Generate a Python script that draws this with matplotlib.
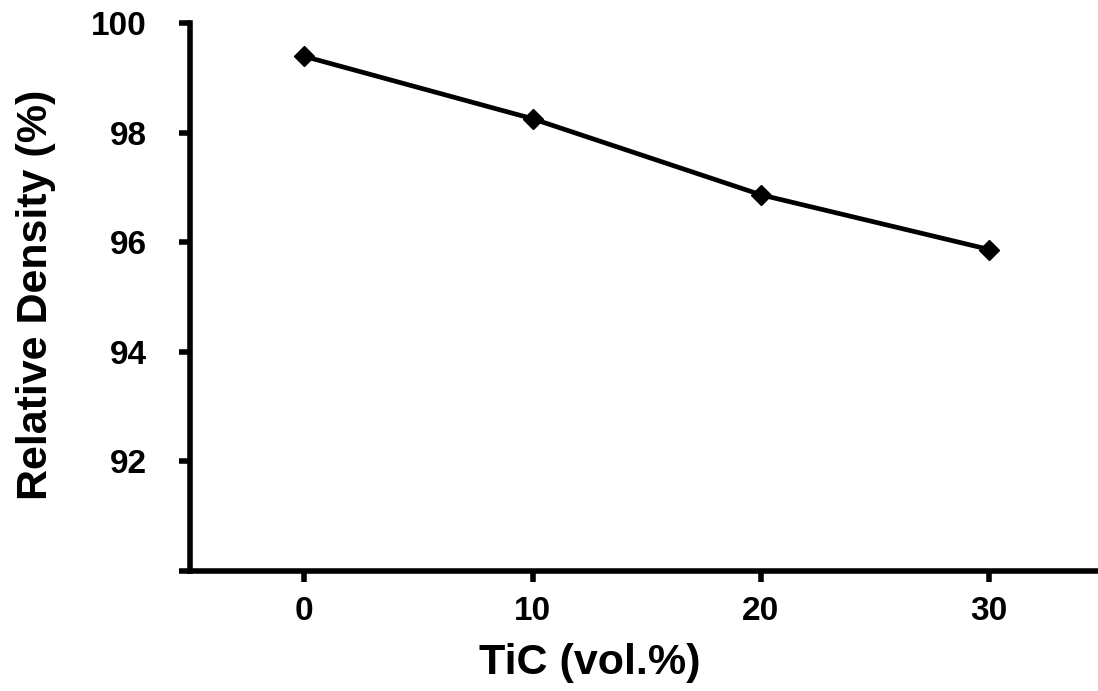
import matplotlib
matplotlib.use('Agg')
import matplotlib.pyplot as plt

plt.rcParams['font.family'] = ['Liberation Sans', 'DejaVu Sans']
plt.rcParams['font.weight'] = 'bold'

# TiC content (vol.%) vs relative density (%)
tic_content = [0, 10, 20, 30]
rel_density = [99.40, 98.26, 96.87, 95.87]

x_ticks = [0, 10, 20, 30]
y_ticks = [90, 92, 94, 96, 98, 100]
y_tick_labels = ['', '92', '94', '96', '98', '100']

fig = plt.figure(figsize=(10.98, 6.91), dpi=100)
ax = fig.add_axes([0.173, 0.174, 0.832, 0.792])

ax.plot(tic_content, rel_density, c='black', linewidth=3.4,
        marker='D', markersize=10.5, markerfacecolor='black', markeredgecolor='black')

ax.set_xlim(-5, 35)
ax.set_ylim(90, 100)
ax.set_xticks(x_ticks)
ax.set_yticks(y_ticks)
ax.set_yticklabels(y_tick_labels)

for side in ['top', 'right']:
    ax.spines[side].set_visible(False)
for side in ['left', 'bottom']:
    ax.spines[side].set_linewidth(4)

ax.tick_params(axis='both', direction='out', length=8, width=4, labelsize=24, colors='black')
ax.tick_params(axis='y', pad=23)
ax.tick_params(axis='x', pad=10)
for lbl in ax.get_xticklabels() + ax.get_yticklabels():
    lbl.set_fontweight('bold')

ax.set_xlabel('TiC (vol.%)', fontsize=31, fontweight='bold')
ax.set_ylabel('Relative Density (%)', fontsize=31, fontweight='bold')
ax.xaxis.set_label_coords(0.438, -0.132)
ax.yaxis.set_label_coords(-0.147, 0.505)

fig.savefig('out.png', dpi=100)
